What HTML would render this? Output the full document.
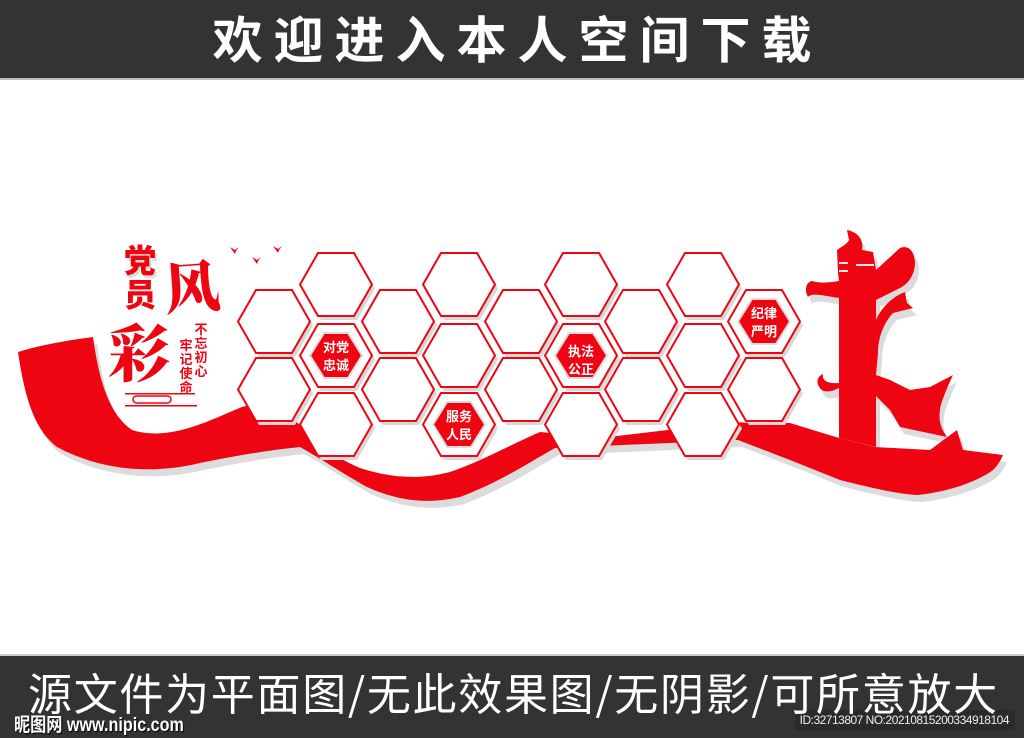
<!DOCTYPE html>
<html><head><meta charset="utf-8"><style>
html,body{margin:0;padding:0;width:1024px;height:736px;overflow:hidden;background:#fff;font-family:"Liberation Sans","Noto Sans CJK SC",sans-serif}
.top{position:absolute;left:0;top:0;width:1024px;height:78px;background:#333;border-bottom:2px solid #bbb}
.top div{position:absolute;left:0;width:1024px;top:6px;text-align:center;color:#fff;font:bold 50px "Noto Sans CJK SC",sans-serif;letter-spacing:11px;line-height:62px;text-indent:11px}
.bot{position:absolute;left:0;top:654px;width:1024px;height:82px;background:#333;border-top:2px solid #ccc}
.bot .t{position:absolute;left:28px;top:8px;color:#fff;font:44px "Noto Sans CJK SC",sans-serif;line-height:54px;white-space:nowrap;letter-spacing:1.7px;z-index:2}
.bot .w{position:absolute;left:14px;top:54px;color:#fff;font:bold 19px "Liberation Sans","Noto Sans CJK SC",sans-serif;text-shadow:1px 1px 1px #000;transform:scaleX(.85);transform-origin:left;z-index:3}
.bot .id{position:absolute;left:795px;top:54px;width:220px;height:20px;background:#2a2a2a;color:#eee;font:12px "Liberation Sans",sans-serif;line-height:20px;text-align:right;padding-right:6px;box-sizing:border-box;letter-spacing:-.5px;z-index:1}
svg{position:absolute;left:0;top:0}
</style></head><body>
<div class="top"><div>欢迎进入本人空间下载</div></div>
<svg width="1024" height="736" viewBox="0 0 1024 736">
<defs>
<path id="rib" d="M18,352 C40,345 70,340 93,337 C98,372 106,412 132,430 C170,442 210,420 242,407 C265,400 285,412 300,425 C320,445 340,460 360,468 C390,478 420,480 450,472 C480,462 510,445 540,432 L600,438 L735,422 C760,424 780,423 790,423 L839,438 L875,447 L930,450 L957,430 L963,450 L1003,455 C1000,462 997,466 993,470 C980,480 950,492 917,495 C900,494 880,490 840,480 L790,460 L738,440 L600,446 L555,448 C530,462 500,482 460,497 C430,504 400,502 367,487 C340,472 320,458 300,447 C270,450 240,455 200,463 C150,475 100,470 57,447 C35,430 25,400 18,352 Z"/>
<path id="pil" d="M847,230 C858,232 864,240 862,250 L873,252 L876,270 L900,248 C908,245 914,250 915,262 C915,275 908,284 900,288 L876,300 L876,320 C882,306 894,296 905,292 L907,303 L913,308 L893,313 C882,325 878,340 878,353 L876,375 L890,380 L910,390 L930,387 L953,375 C946,390 940,405 940,410 C938,422 942,430 947,437 L900,427 L890,410 L876,396 L876,447 L839,438 L839,388 C832,392 823,393 820,388 C815,382 818,376 823,374 C822,380 826,384 839,383 L839,298 C825,296 812,292 808,297 C804,290 806,282 812,281 C822,284 832,282 839,281 L838,273 L837,250 C843,246 848,243 849,240 Z"/>
<polygon id="hx" points="18,0 54,0 72,31.5 54,63 18,63 0,31.5"/>
<polygon id="hi" points="24,9 48,9 62,31.5 48,54 24,54 10,31.5"/>
</defs>
<g fill="#dcdcdc" transform="translate(4,7)"><use href="#rib"/><use href="#pil"/></g>
<use href="#rib" fill="#ee0511"/>
<use href="#pil" fill="#ee0511"/>
<g fill="#fff" opacity=".9"><rect x="839" y="262" width="9" height="2"/><rect x="856" y="264" width="18" height="2"/><rect x="839" y="270" width="9" height="2"/></g>
<g>
<g transform="translate(238,290)"><use href="#hx" fill="#d8d8d8" transform="translate(3,4)"/><use href="#hx" fill="#fff" stroke="#ee0511" stroke-width="2"/></g>
<g transform="translate(238,358)"><use href="#hx" fill="#d8d8d8" transform="translate(3,4)"/><use href="#hx" fill="#fff" stroke="#ee0511" stroke-width="2"/></g>
<g transform="translate(300,253)"><use href="#hx" fill="#d8d8d8" transform="translate(3,4)"/><use href="#hx" fill="#fff" stroke="#ee0511" stroke-width="2"/></g>
<g transform="translate(300,393)"><use href="#hx" fill="#d8d8d8" transform="translate(3,4)"/><use href="#hx" fill="#fff" stroke="#ee0511" stroke-width="2"/></g>
<g transform="translate(362,290)"><use href="#hx" fill="#d8d8d8" transform="translate(3,4)"/><use href="#hx" fill="#fff" stroke="#ee0511" stroke-width="2"/></g>
<g transform="translate(362,358)"><use href="#hx" fill="#d8d8d8" transform="translate(3,4)"/><use href="#hx" fill="#fff" stroke="#ee0511" stroke-width="2"/></g>
<g transform="translate(423,253)"><use href="#hx" fill="#d8d8d8" transform="translate(3,4)"/><use href="#hx" fill="#fff" stroke="#ee0511" stroke-width="2"/></g>
<g transform="translate(423,324)"><use href="#hx" fill="#d8d8d8" transform="translate(3,4)"/><use href="#hx" fill="#fff" stroke="#ee0511" stroke-width="2"/></g>
<g transform="translate(485,290)"><use href="#hx" fill="#d8d8d8" transform="translate(3,4)"/><use href="#hx" fill="#fff" stroke="#ee0511" stroke-width="2"/></g>
<g transform="translate(485,358)"><use href="#hx" fill="#d8d8d8" transform="translate(3,4)"/><use href="#hx" fill="#fff" stroke="#ee0511" stroke-width="2"/></g>
<g transform="translate(545,253)"><use href="#hx" fill="#d8d8d8" transform="translate(3,4)"/><use href="#hx" fill="#fff" stroke="#ee0511" stroke-width="2"/></g>
<g transform="translate(545,393)"><use href="#hx" fill="#d8d8d8" transform="translate(3,4)"/><use href="#hx" fill="#fff" stroke="#ee0511" stroke-width="2"/></g>
<g transform="translate(605,290)"><use href="#hx" fill="#d8d8d8" transform="translate(3,4)"/><use href="#hx" fill="#fff" stroke="#ee0511" stroke-width="2"/></g>
<g transform="translate(605,358)"><use href="#hx" fill="#d8d8d8" transform="translate(3,4)"/><use href="#hx" fill="#fff" stroke="#ee0511" stroke-width="2"/></g>
<g transform="translate(667,253)"><use href="#hx" fill="#d8d8d8" transform="translate(3,4)"/><use href="#hx" fill="#fff" stroke="#ee0511" stroke-width="2"/></g>
<g transform="translate(667,324)"><use href="#hx" fill="#d8d8d8" transform="translate(3,4)"/><use href="#hx" fill="#fff" stroke="#ee0511" stroke-width="2"/></g>
<g transform="translate(667,393)"><use href="#hx" fill="#d8d8d8" transform="translate(3,4)"/><use href="#hx" fill="#fff" stroke="#ee0511" stroke-width="2"/></g>
<g transform="translate(728,358)"><use href="#hx" fill="#d8d8d8" transform="translate(3,4)"/><use href="#hx" fill="#fff" stroke="#ee0511" stroke-width="2"/></g>
</g>
<g font-family="Noto Sans CJK SC,sans-serif" font-weight="bold" font-size="13" fill="#fff" text-anchor="middle">
<g transform="translate(300,324)"><use href="#hx" fill="#d8d8d8" transform="translate(3,4)"/><use href="#hx" fill="#fff" stroke="#ee0511" stroke-width="2"/><use href="#hi" fill="#ee0511" stroke="#ddd" stroke-width="2"/><text x="36" y="28">对党</text><text x="36" y="46">忠诚</text></g>
<g transform="translate(423,393)"><use href="#hx" fill="#d8d8d8" transform="translate(3,4)"/><use href="#hx" fill="#fff" stroke="#ee0511" stroke-width="2"/><use href="#hi" fill="#ee0511" stroke="#ddd" stroke-width="2"/><text x="36" y="28">服务</text><text x="36" y="46">人民</text></g>
<g transform="translate(545,324)"><use href="#hx" fill="#d8d8d8" transform="translate(3,4)"/><use href="#hx" fill="#fff" stroke="#ee0511" stroke-width="2"/><use href="#hi" fill="#ee0511" stroke="#ddd" stroke-width="2"/><text x="36" y="32">执法</text><text x="36" y="50">公正</text></g>
<g transform="translate(728,290)"><use href="#hx" fill="#d8d8d8" transform="translate(3,4)"/><use href="#hx" fill="#fff" stroke="#ee0511" stroke-width="2"/><use href="#hi" fill="#ee0511" stroke="#ddd" stroke-width="2"/><text x="36" y="28">纪律</text><text x="36" y="46">严明</text></g>
</g>
<g fill="#ee0511">
<path d="M230,247 l5,3 l4,-3 l-3,4 l-1,3 z"/><path d="M252,257 l5,3 l4,-3 l-3,4 l-1,3 z"/><path d="M273,246 l5,3 l4,-3 l-3,4 l-1,3 z"/>
</g>
<g font-family="Noto Sans CJK SC,sans-serif" fill="#ee0511">
<text x="124" y="272" font-size="32" font-weight="900" fill="#ddd" transform="translate(2,3)">党</text>
<text x="124" y="272" font-size="32" font-weight="900">党</text>
<text x="124" y="306" font-size="32" font-weight="900">员</text>
<text x="164" y="308" font-size="56" font-weight="900" font-family="Noto Serif CJK SC,serif" transform="rotate(-4 190 285)">风</text>
<text x="108" y="376" font-size="62" font-weight="900" font-family="Noto Serif CJK SC,serif">彩</text>
<g font-size="13" font-weight="bold" text-anchor="middle">
<text x="201" y="334">不</text><text x="201" y="348">忘</text><text x="201" y="362">初</text><text x="201" y="376">心</text>
<text x="186" y="350">牢</text><text x="186" y="364">记</text><text x="186" y="378">使</text><text x="186" y="392">命</text>
</g>
<rect x="125" y="393" width="70" height="1.5"/>
<rect x="133" y="396" width="38" height="7" rx="3.5" fill="none" stroke="#ee0511" stroke-width="1.5"/>
<rect x="125" y="405" width="72" height="1.5"/>
</g>
</svg>
<div class="bot"><div class="id">ID:32713807 NO:20210815200334918104</div><div class="t">源文件为平面图/无此效果图/无阴影/可所意放大</div><div class="w">昵图网 www.nipic.com</div></div>
</body></html>
